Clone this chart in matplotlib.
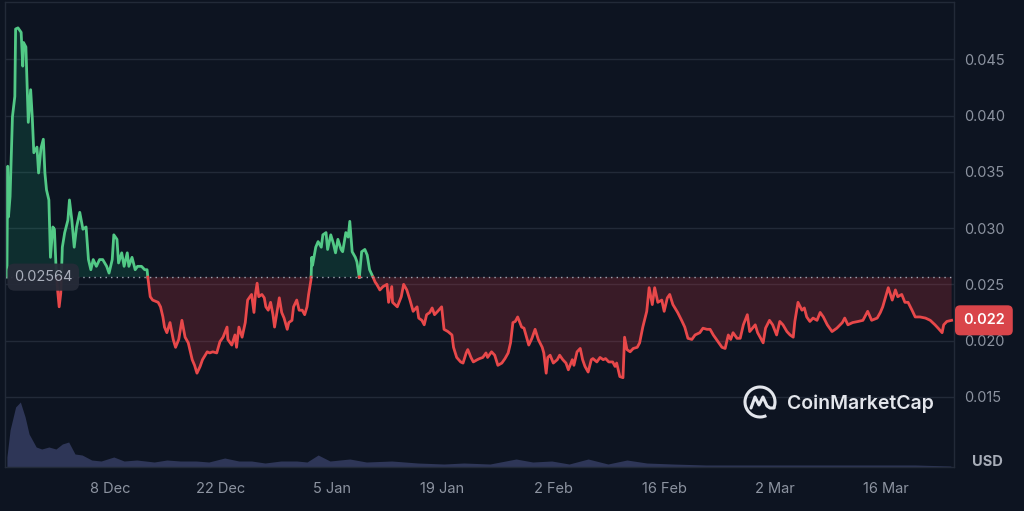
import numpy as np
import pandas as pd
import matplotlib
matplotlib.use("Agg")
import matplotlib.pyplot as plt
import matplotlib.dates as mdates
import matplotlib.transforms as mtransforms
from matplotlib.patches import Arc
from matplotlib.lines import Line2D

plt.rcParams["font.family"] = ["Inter", "DejaVu Sans"]

# ---- data ----
START = "2024-11-25"
BASE_PRICE = 0.02564
LAST_LABEL = "0.022"

# days since START, price in USD
price_days = [
    0.0, 0.1, 0.2, 0.4, 0.7, 1.0, 1.1, 1.4, 1.8, 2.0,
    2.1, 2.4, 2.7, 3.0, 3.2, 3.4, 3.8, 4.0, 4.3, 4.6,
    4.8, 5.0, 5.3, 5.5, 5.8, 6.0, 6.2, 6.4, 6.6, 6.8,
    7.0, 7.3, 7.7, 7.9, 8.2, 8.5, 8.8, 9.2, 9.6, 10.0,
    10.3, 10.6, 10.9, 11.3, 11.7, 12.1, 12.6, 12.9, 13.3, 13.5,
    13.9, 14.1, 14.5, 14.8, 15.2, 15.4, 15.8, 16.2, 16.5, 17.0,
    17.4, 17.7, 17.8, 18.1, 18.4, 19.1, 19.4, 19.7, 19.9, 20.2,
    20.6, 21.0, 21.3, 21.7, 22.1, 22.5, 22.9, 23.4, 23.7, 24.0,
    24.4, 24.7, 25.3, 25.6, 26.0, 26.5, 26.9, 27.3, 27.8, 27.9,
    28.4, 28.8, 29.0, 29.3, 29.7, 30.1, 30.4, 30.9, 31.2, 31.4,
    31.6, 31.8, 32.2, 32.5, 32.7, 33.0, 33.3, 33.6, 33.8, 34.1,
    34.4, 34.7, 35.0, 35.4, 35.6, 36.0, 36.2, 36.6, 36.9, 37.3,
    37.6, 37.9, 38.1, 38.4, 38.5, 38.6, 39.0, 39.3, 39.7, 39.9,
    40.3, 40.5, 40.9, 41.2, 41.5, 41.8, 42.2, 42.4, 42.8, 43.1,
    43.3, 43.6, 44.0, 44.2, 44.5, 44.8, 45.2, 45.5, 45.8, 46.2,
    46.5, 46.7, 47.1, 47.5, 48.0, 48.2, 48.6, 48.7, 49.3, 49.8,
    50.1, 50.5, 50.9, 51.3, 51.8, 52.0, 52.4, 52.7, 53.0, 53.4,
    53.7, 54.0, 54.4, 54.9, 55.2, 55.7, 56.2, 56.4, 56.8, 57.3,
    57.6, 58.0, 58.2, 58.6, 58.9, 59.4, 59.7, 60.1, 60.5, 60.7,
    61.2, 61.6, 62.0, 62.5, 62.9, 63.3, 63.6, 63.9, 64.2, 64.5,
    65.0, 65.3, 65.7, 65.9, 66.3, 66.7, 67.1, 67.6, 67.8, 68.1,
    68.3, 68.6, 69.0, 69.5, 69.8, 70.2, 70.6, 70.9, 71.4, 71.6,
    72.0, 72.4, 72.7, 73.0, 73.4, 73.8, 74.0, 74.5, 74.9, 75.3,
    75.6, 76.0, 76.5, 76.8, 77.0, 77.4, 77.8, 78.0, 78.3, 78.7,
    79.1, 79.6, 79.9, 80.3, 80.8, 81.1, 81.5, 81.8, 82.2, 82.7,
    83.0, 83.4, 83.7, 84.1, 84.7, 85.2, 85.6, 86.0, 86.5, 86.9,
    87.5, 87.9, 88.4, 88.8, 89.2, 89.8, 90.3, 90.7, 91.1, 91.4,
    91.7, 92.2, 92.6, 93.0, 93.5, 93.8, 94.5, 94.8, 95.5, 95.8,
    96.3, 96.7, 97.2, 97.6, 98.0, 98.5, 98.9, 99.3, 99.5, 99.9,
    100.4, 100.7, 101.0, 101.4, 101.8, 102.3, 102.7, 103.1, 103.6, 104.2,
    104.8, 105.5, 105.8, 106.2, 106.8, 107.5, 108.1, 108.7, 109.2, 109.9,
    110.3, 110.6, 111.3, 111.8, 112.2, 112.5, 113.0, 113.4, 113.8, 114.3,
    114.7, 115.3, 116.0, 116.6, 117.2, 117.6, 118.1, 118.3, 118.7, 119.3,
]
price = [
    0.02564, 0.0355, 0.0310, 0.0328, 0.0399, 0.0417, 0.0477, 0.0478, 0.0474, 0.0444,
    0.0465, 0.0461, 0.0394, 0.0423, 0.0399, 0.0367, 0.0372, 0.0349, 0.0371, 0.0379,
    0.0349, 0.0334, 0.0325, 0.0274, 0.0301, 0.0299, 0.0266, 0.0245, 0.0230, 0.0242,
    0.0283, 0.0296, 0.0307, 0.0325, 0.0307, 0.0283, 0.0301, 0.0314, 0.0299, 0.0301,
    0.0272, 0.0263, 0.0272, 0.0266, 0.0272, 0.0272, 0.0266, 0.0260, 0.0272, 0.0294,
    0.0290, 0.0269, 0.0278, 0.0266, 0.0278, 0.0266, 0.0274, 0.0263, 0.0266, 0.0266,
    0.0263, 0.0263, 0.0256, 0.0239, 0.0236, 0.0234, 0.0230, 0.0221, 0.0212, 0.0207,
    0.0216, 0.0201, 0.0194, 0.0201, 0.0218, 0.0203, 0.0198, 0.0183, 0.0178, 0.0171,
    0.0177, 0.0183, 0.0190, 0.0189, 0.0190, 0.0189, 0.0199, 0.0203, 0.0212, 0.0201,
    0.0196, 0.0205, 0.0194, 0.0212, 0.0203, 0.0216, 0.0236, 0.0241, 0.0225, 0.0242,
    0.0251, 0.0239, 0.0241, 0.0238, 0.0230, 0.0227, 0.0234, 0.0223, 0.0212, 0.0225,
    0.0238, 0.0225, 0.0220, 0.0210, 0.0216, 0.0218, 0.0230, 0.0236, 0.0227, 0.0227,
    0.0223, 0.0230, 0.0241, 0.0254, 0.0274, 0.0267, 0.0283, 0.0288, 0.0283, 0.0294,
    0.0296, 0.0281, 0.0294, 0.0287, 0.0278, 0.0290, 0.0281, 0.0279, 0.0296, 0.0292,
    0.0306, 0.0279, 0.0274, 0.0270, 0.0256, 0.0279, 0.0281, 0.0276, 0.0263, 0.0257,
    0.0252, 0.0250, 0.0245, 0.0248, 0.0250, 0.0234, 0.0248, 0.0234, 0.0230, 0.0239,
    0.0250, 0.0245, 0.0236, 0.0226, 0.0230, 0.0220, 0.0218, 0.0214, 0.0223, 0.0225,
    0.0229, 0.0223, 0.0226, 0.0230, 0.0210, 0.0208, 0.0205, 0.0194, 0.0185, 0.0181,
    0.0180, 0.0189, 0.0192, 0.0185, 0.0181, 0.0183, 0.0184, 0.0185, 0.0189, 0.0185,
    0.0190, 0.0187, 0.0178, 0.0180, 0.0184, 0.0189, 0.0198, 0.0216, 0.0217, 0.0221,
    0.0212, 0.0211, 0.0201, 0.0196, 0.0202, 0.0210, 0.0201, 0.0194, 0.0189, 0.0171,
    0.0185, 0.0187, 0.0180, 0.0183, 0.0187, 0.0183, 0.0180, 0.0174, 0.0183, 0.0178,
    0.0190, 0.0193, 0.0183, 0.0177, 0.0172, 0.0183, 0.0184, 0.0181, 0.0185, 0.0183,
    0.0184, 0.0181, 0.0181, 0.0177, 0.0180, 0.0168, 0.0167, 0.0203, 0.0192, 0.0190,
    0.0193, 0.0194, 0.0198, 0.0212, 0.0226, 0.0247, 0.0232, 0.0247, 0.0234, 0.0236,
    0.0226, 0.0238, 0.0241, 0.0232, 0.0225, 0.0218, 0.0212, 0.0202, 0.0201, 0.0205,
    0.0207, 0.0211, 0.0210, 0.0210, 0.0205, 0.0199, 0.0194, 0.0193, 0.0205, 0.0201,
    0.0207, 0.0202, 0.0202, 0.0214, 0.0223, 0.0208, 0.0214, 0.0207, 0.0198, 0.0211,
    0.0218, 0.0214, 0.0205, 0.0217, 0.0214, 0.0208, 0.0205, 0.0203, 0.0217, 0.0234,
    0.0227, 0.0229, 0.0221, 0.0217, 0.0220, 0.0218, 0.0225, 0.0221, 0.0214, 0.0208,
    0.0211, 0.0216, 0.0220, 0.0214, 0.0216, 0.0217, 0.0218, 0.0226, 0.0218, 0.0220,
    0.0225, 0.0230, 0.0247, 0.0236, 0.0245, 0.0239, 0.0241, 0.0234, 0.0234, 0.0227,
    0.0221, 0.0221, 0.0220, 0.0218, 0.0214, 0.0211, 0.0207, 0.0214, 0.0217, 0.0218,
]

# volume (million USD, approximate)
vol_days = [
    0.0, 0.4, 1.1, 1.7, 2.3, 2.8, 3.7, 4.4, 5.3, 6.2,
    7.0, 7.8, 8.6, 9.5, 10.7, 11.9, 13.5, 14.8, 16.4, 18.6,
    20.2, 21.9, 23.9, 25.5, 27.5, 29.3, 30.9, 32.6, 34.6, 36.6,
    37.9, 39.3, 40.8, 43.3, 45.4, 48.6, 51.9, 55.2, 57.7, 61.0,
    64.3, 66.4, 68.8, 71.0, 73.4, 75.9, 78.3, 80.8, 84.1, 88.3,
    94.1, 98.2, 103.2, 108.9, 114.7, 119.2,
]
volume_musd = [
    1.0, 3.7, 6.0, 6.5, 5.0, 3.3, 2.0, 1.8, 2.0, 1.8,
    2.3, 2.5, 1.3, 1.2, 0.7, 0.6, 1.0, 0.6, 0.7, 0.5,
    0.7, 0.6, 0.6, 0.5, 0.9, 0.6, 0.6, 0.4, 0.6, 0.6,
    0.5, 1.2, 0.6, 0.8, 0.5, 0.6, 0.4, 0.3, 0.4, 0.3,
    0.8, 0.5, 0.6, 0.3, 0.8, 0.3, 0.7, 0.4, 0.3, 0.2,
    0.2, 0.2, 0.2, 0.2, 0.2, 0.1,
]

tick_dates = ["2024-12-08", "2024-12-22", "2025-01-05", "2025-01-19",
              "2025-02-02", "2025-02-16", "2025-03-02", "2025-03-16"]
tick_labels = ["8 Dec", "22 Dec", "5 Jan", "19 Jan", "2 Feb", "16 Feb", "2 Mar", "16 Mar"]
y_ticks = [0.015, 0.020, 0.025, 0.030, 0.035, 0.040, 0.045]

BG = "#0d1421"
GRID = "#222a38"
TXT = "#8c93a0"
GREEN = "#52c986"
RED = "#e8484a"
VOL = "#2e3657"


def split_at_base(x, y, base):
    xs, ys = [x[0]], [y[0]]
    for i in range(1, len(x)):
        y0, y1 = y[i - 1], y[i]
        if (y0 - base) * (y1 - base) < 0:
            f = (base - y0) / (y1 - y0)
            xs.append(x[i - 1] + f * (x[i] - x[i - 1]))
            ys.append(base)
        xs.append(x[i])
        ys.append(y[i])
    return np.array(xs), np.array(ys)


t0 = mdates.date2num(pd.Timestamp(START))
x = t0 + np.array(price_days)
y = np.array(price)
xs, ys = split_at_base(x, y, BASE_PRICE)

fig = plt.figure(figsize=(10.24, 5.11), dpi=100, facecolor=BG)
W, H = 1024, 511
rect = [5 / W, 44 / H, 949 / W, 465 / H]

# volume strip at the bottom
vax = fig.add_axes([rect[0], rect[1], rect[2], 67 / H])
vax.fill_between(t0 + np.array(vol_days), volume_musd, 0, color=VOL, lw=0)
vax.set_ylim(0, 6.7)
vax.set_xlim(t0 - 0.24, t0 + 119.6)
vax.axis("off")

ax = fig.add_axes(rect, facecolor="none")
ax.set_xlim(t0 - 0.24, t0 + 119.6)
ax.set_ylim(0.00876, 0.0501)

ax.fill_between(xs, ys, BASE_PRICE, where=ys >= BASE_PRICE, color="#16c784",
                alpha=0.15, lw=0, interpolate=True)
ax.fill_between(xs, ys, BASE_PRICE, where=ys <= BASE_PRICE, color="#ea3943",
                alpha=0.2, lw=0, interpolate=True)
ax.plot(xs, np.where(ys >= BASE_PRICE, ys, np.nan), color=GREEN, lw=2.0,
        solid_joinstyle="round")
ax.plot(xs, np.where(ys <= BASE_PRICE, ys, np.nan), color=RED, lw=2.0,
        solid_joinstyle="round")
ax.axhline(BASE_PRICE, color="#a0a7b4", lw=1, ls=(0, (1, 3)))

ax.set_yticks(y_ticks)
ax.set_yticklabels([f"{v:.3f}" for v in y_ticks])
ax.yaxis.tick_right()
ax.grid(True, axis="y", color=GRID, lw=1)
ax.set_axisbelow(True)
ax.set_xticks([mdates.date2num(pd.Timestamp(d)) for d in tick_dates])
ax.set_xticklabels(tick_labels)
ax.tick_params(axis="both", length=0, colors=TXT, labelsize=10.5)
ax.tick_params(axis="y", pad=7)
ax.tick_params(axis="x", pad=11)
for s in ax.spines.values():
    s.set_color(GRID)
    s.set_linewidth(1)

# start price badge
blend = mtransforms.blended_transform_factory(ax.transAxes, ax.transData)
ax.text(0.0095, BASE_PRICE, f"{BASE_PRICE:.5f}", transform=blend, ha="left",
        va="center", color="#a9afbb", fontsize=10.5, zorder=6,
        bbox=dict(boxstyle="round,pad=0.45,rounding_size=0.5", fc="#262b38",
                  ec="none", alpha=0.95))

# last price badge
ax.text(1.0095, price[-1], LAST_LABEL, transform=blend, ha="left", va="center",
        color="white", fontsize=10.5, fontweight="semibold", clip_on=False,
        bbox=dict(boxstyle="round,pad=0.55,rounding_size=0.35", fc="#d9454a",
                  ec="none"))

fig.text(972 / W, 1 - 462 / H, "USD", color="#a7adb8", fontsize=10.5,
         fontweight="bold", ha="left", va="center")

# watermark
fig.text(787 / W, 1 - 404 / H, "CoinMarketCap", color="#e3e6ec", fontsize=14,
         fontweight="semibold", ha="left", va="center")
cx, cy = 760, H - 402
ident = mtransforms.IdentityTransform()
fig.add_artist(Arc((cx, cy), 30, 30, theta1=-25, theta2=295, color="#e3e6ec",
                   lw=2.2, transform=ident))
fig.add_artist(Line2D([cx - 9, cx - 5, cx - 1, cx + 3, cx + 7, cx + 10, cx + 14],
                      [cy - 6, cy + 5, cy - 3, cy + 5, cy - 4, cy - 6, cy - 6],
                      color="#e3e6ec", lw=2.2, transform=ident,
                      solid_joinstyle="round", solid_capstyle="round"))

fig.savefig("out.png", dpi=100, facecolor=BG)
